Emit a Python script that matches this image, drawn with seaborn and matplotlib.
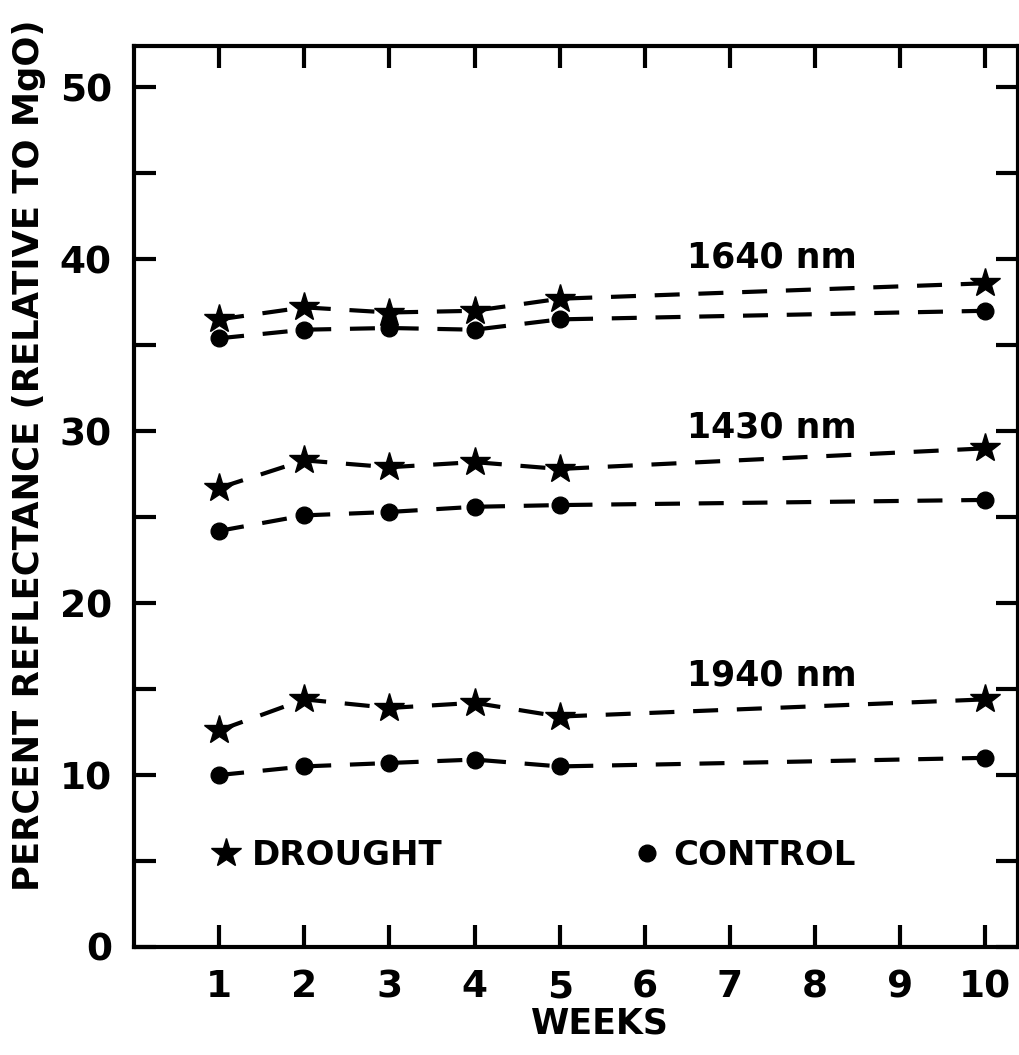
import numpy as np
import pandas as pd
import matplotlib
matplotlib.use("Agg")
import matplotlib.pyplot as plt
from matplotlib.lines import Line2D
import seaborn as sns

# data (percent reflectance relative to MgO)
weeks = [1, 2, 3, 4, 5, 10]
drought_1640 = [36.5, 37.2, 36.9, 37.0, 37.7, 38.6]
control_1640 = [35.4, 35.9, 36.0, 35.9, 36.5, 37.0]
drought_1430 = [26.7, 28.3, 27.9, 28.2, 27.8, 29.0]
control_1430 = [24.2, 25.1, 25.3, 25.6, 25.7, 26.0]
drought_1940 = [12.6, 14.4, 13.9, 14.2, 13.4, 14.4]
control_1940 = [10.0, 10.5, 10.7, 10.9, 10.5, 11.0]
bands = ["1640 nm", "1430 nm", "1940 nm"]
x_ticks = list(range(1, 11))
y_ticks = [0, 10, 20, 30, 40, 50]

sns.set_theme(style="white")
plt.rcParams["font.family"] = ["DejaVu Sans"]
plt.rcParams["font.weight"] = "bold"
plt.rcParams["text.color"] = "black"
plt.rcParams["axes.labelcolor"] = "black"

rows = []
for band, d, c in zip(bands,
                      [drought_1640, drought_1430, drought_1940],
                      [control_1640, control_1430, control_1940]):
    for w, v in zip(weeks, d):
        rows.append((band, "DROUGHT", w, v))
    for w, v in zip(weeks, c):
        rows.append((band, "CONTROL", w, v))
df = pd.DataFrame(rows, columns=["band", "treatment", "week", "reflectance"])

fig = plt.figure(figsize=(10.19, 10.55), dpi=100)
ax = fig.add_axes([0.1315, 0.1024, 0.868, 0.854])

marker_for = {"DROUGHT": ("*", 22), "CONTROL": ("o", 12)}
for (band, treat), sub in df.groupby(["band", "treatment"]):
    m, ms = marker_for[treat]
    sns.lineplot(data=sub, x="week", y="reflectance", ax=ax, color="black",
                 lw=3, dashes=(6, 4.5), marker=m, markersize=ms,
                 markeredgecolor="black", markeredgewidth=1, legend=False)

# band labels
label_y = {"1640 nm": 40.1, "1430 nm": 30.2, "1940 nm": 15.8}
for band in bands:
    ax.text(6.5, label_y[band], band, fontsize=25, fontweight="bold",
            ha="left", va="center", color="black")

ax.set_xlim(0, 10.39)
ax.set_ylim(0, 52.4)
ax.set_xticks(x_ticks)
ax.set_xticklabels([str(t) for t in x_ticks])
ax.set_yticks(y_ticks)
ax.set_yticklabels([str(t) for t in y_ticks])
ax.set_yticks(np.arange(5, 51, 10), minor=True)

for s in ax.spines.values():
    s.set_linewidth(3)
    s.set_color("black")
ax.tick_params(axis="both", which="both", direction="in", length=16, width=3,
               top=True, right=True, left=True, bottom=True, color="black")
ax.tick_params(axis="both", which="major", labelsize=27, pad=16,
               labelcolor="black")
ax.grid(False)

ax.set_xlabel("WEEKS", fontsize=25, fontweight="bold")
ax.xaxis.set_label_coords(0.527, -0.066)
ax.set_ylabel("PERCENT REFLECTANCE (RELATIVE TO MgO)", fontsize=25.5,
              fontweight="bold")
ax.yaxis.set_label_coords(-0.10, 0.546)

handles = [Line2D([], [], marker="*", ls="none", color="black", ms=22),
           Line2D([], [], marker="o", ls="none", color="black", ms=12)]
ax.legend(handles, ["DROUGHT", "CONTROL"], ncol=2, frameon=False,
          loc="center left", bbox_to_anchor=(0.089, 0.102), borderpad=0,
          borderaxespad=0, handlelength=0.8, handletextpad=0.36,
          columnspacing=5.6, prop={"weight": "bold", "size": 24.5},
          labelcolor="black")

fig.savefig("out.png", dpi=100, facecolor="white")
